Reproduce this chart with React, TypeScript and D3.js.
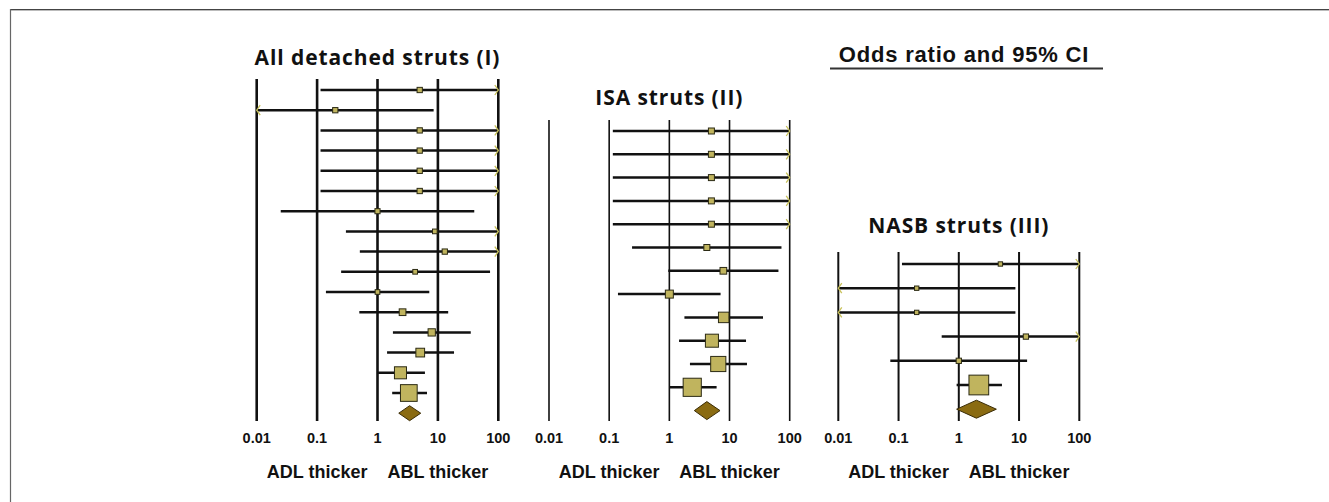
import React, { useEffect, useRef } from 'react';
import * as d3 from 'd3';

// odds ratios with 95% CI (values past 0.01 / 100 are clipped with an arrow)
const allLower = [0.114, 0.004, 0.114, 0.114, 0.114, 0.114, 0.025, 0.3, 0.51, 0.25, 0.14, 0.5, 1.8, 1.44, 1.0, 1.75];
const allOR = [5.0, 0.2, 5.0, 5.0, 5.0, 5.0, 1.0, 8.9, 13, 4.2, 1.0, 2.6, 7.9, 5.1, 2.4, 3.3];
const allUpper = [250, 8.5, 250, 250, 250, 250, 40, 250, 250, 73, 7.2, 14.8, 35, 18.5, 6.1, 6.6];
const allWeight = [2.8, 2.8, 2.8, 2.8, 2.8, 2.8, 2.6, 2.2, 2.8, 2.2, 2.2, 4.5, 5.3, 7.6, 14.5, 28];
const allPooled = [2.25, 3.4, 5.2];

const isaLower = [0.115, 0.115, 0.115, 0.115, 0.115, 0.24, 0.96, 0.14, 1.78, 1.45, 2.2, 1.0];
const isaOR = [5.0, 5.0, 5.0, 5.0, 5.0, 4.2, 7.9, 1.0, 8.0, 5.1, 6.5, 2.4];
const isaUpper = [250, 250, 250, 250, 250, 73, 65, 7.1, 36, 18.8, 19.5, 6.1];
const isaWeight = [3.6, 3.6, 3.6, 3.6, 3.6, 3.6, 4.5, 6.4, 11, 17, 23, 33];
const isaPooled = [2.6, 4.2, 6.95];

const nasbLower = [0.114, 0.004, 0.004, 0.52, 0.073, 0.92];
const nasbOR = [4.9, 0.2, 0.2, 13, 1.0, 2.15];
const nasbUpper = [250, 8.7, 8.7, 250, 13.6, 5.2];
const nasbWeight = [1.9, 1.9, 1.9, 2.8, 2.8, 39];
const nasbPooled = [0.92, 1.96, 4.2];

const ticks = [0.01, 0.1, 1, 10, 100];
const tickLabels = ['0.01', '0.1', '1', '10', '100'];

const panels = [
    { title: 'All detached struts (I)', lower: allLower, or: allOR, upper: allUpper, weight: allWeight, pooled: allPooled,
      x0: 256.7, x1: 498.3, yFirst: 90, yLast: 413.2, top: 79, titleY: 65, gridWidth: 2.6 },
    { title: 'ISA struts (II)', lower: isaLower, or: isaOR, upper: isaUpper, weight: isaWeight, pooled: isaPooled,
      x0: 549, x1: 789.7, yFirst: 131, yLast: 410.6, top: 120, titleY: 105, gridWidth: 1.6 },
    { title: 'NASB struts (III)', lower: nasbLower, or: nasbOR, upper: nasbUpper, weight: nasbWeight, pooled: nasbPooled,
      x0: 838.3, x1: 1079.3, yFirst: 264, yLast: 409.2, top: 252, titleY: 233, gridWidth: 2 },
];

const boxFill = '#c0b45e';
const diamondFill = '#8a6b12';
const arrowColor = '#c9c25a';

export default function App() {
    const ref = useRef<SVGSVGElement>(null);

    useEffect(() => {
        const svg = d3.select(ref.current);
        svg.selectAll('*').remove();

        // frame
        svg.append('line').attr('x1', 10).attr('x2', 1329).attr('y1', 9.5).attr('y2', 9.5).attr('stroke', '#444').attr('stroke-width', 1);
        svg.append('line').attr('x1', 10).attr('x2', 1329).attr('y1', 10.5).attr('y2', 10.5).attr('stroke', '#bbb').attr('stroke-width', 1);
        svg.append('line').attr('x1', 10.5).attr('x2', 10.5).attr('y1', 9).attr('y2', 502).attr('stroke', '#666').attr('stroke-width', 1.2);

        // header
        svg.append('text').text('Odds ratio and 95% CI')
            .attr('x', 964).attr('y', 62).attr('text-anchor', 'middle')
            .attr('font-family', 'Liberation Sans, Arial, sans-serif').attr('font-weight', 'bold')
            .attr('font-size', 22).attr('letter-spacing', 0.8).attr('fill', '#111');
        svg.append('line').attr('x1', 830).attr('x2', 1103).attr('y1', 68.5).attr('y2', 68.5)
            .attr('stroke', '#333').attr('stroke-width', 2);

        const sizeScale = d3.scaleSqrt().domain([0, 100]).range([0, 31.6]);

        panels.forEach((p) => {
            const g = svg.append('g');
            const x = d3.scaleLog().domain([0.01, 100]).range([p.x0, p.x1]);
            const n = p.or.length;
            const y = d3.scaleLinear().domain([0, n]).range([p.yFirst, p.yLast]);

            g.append('text').text(p.title)
                .attr('x', (p.x0 + p.x1) / 2).attr('y', p.titleY).attr('text-anchor', 'middle')
                .attr('font-family', 'Open Sans, sans-serif').attr('font-weight', 'bold')
                .attr('font-size', 21).attr('letter-spacing', 0.9).attr('fill', '#111');

            // vertical reference lines
            g.selectAll('line.grid').data(ticks).enter().append('line')
                .attr('class', 'grid')
                .attr('x1', (d) => x(d)).attr('x2', (d) => x(d))
                .attr('y1', p.top).attr('y2', 421)
                .attr('stroke', '#111').attr('stroke-width', p.gridWidth);

            g.selectAll('text.tick').data(ticks).enter().append('text')
                .attr('class', 'tick')
                .attr('x', (d) => x(d)).attr('y', 442.5).attr('text-anchor', 'middle')
                .attr('font-family', 'Liberation Sans, Arial, sans-serif').attr('font-weight', 'bold')
                .attr('font-size', 14.5).attr('fill', '#111')
                .text((d, i) => tickLabels[i]);

            g.append('text').text('ADL thicker')
                .attr('x', x(0.1)).attr('y', 477.5).attr('text-anchor', 'middle')
                .attr('font-family', 'Liberation Sans, Arial, sans-serif').attr('font-weight', 'bold')
                .attr('font-size', 18).attr('fill', '#111');
            g.append('text').text('ABL thicker')
                .attr('x', x(10)).attr('y', 477.5).attr('text-anchor', 'middle')
                .attr('font-family', 'Liberation Sans, Arial, sans-serif').attr('font-weight', 'bold')
                .attr('font-size', 18).attr('fill', '#111');

            const rows = d3.range(n).map((i) => ({
                i, lo: p.lower[i], est: p.or[i], hi: p.upper[i], w: p.weight[i],
            }));
            const clip = (v: number) => Math.max(0.01, Math.min(100, v));

            // CI lines
            g.selectAll('line.ci').data(rows).enter().append('line')
                .attr('class', 'ci')
                .attr('x1', (d) => x(clip(d.lo))).attr('x2', (d) => x(clip(d.hi)))
                .attr('y1', (d) => y(d.i)).attr('y2', (d) => y(d.i))
                .attr('stroke', '#111').attr('stroke-width', 2.5);

            // arrows for clipped intervals
            const arrow = d3.line();
            rows.forEach((d) => {
                if (d.hi > 100) {
                    const ax = x(100), ay = y(d.i);
                    g.append('path').attr('d', arrow([[ax - 3.5, ay - 5], [ax, ay], [ax - 3.5, ay + 5]]))
                        .attr('fill', 'none').attr('stroke', arrowColor).attr('stroke-width', 1.3);
                }
                if (d.lo < 0.01) {
                    const ax = x(0.01), ay = y(d.i);
                    g.append('path').attr('d', arrow([[ax + 3.5, ay - 5], [ax, ay], [ax + 3.5, ay + 5]]))
                        .attr('fill', 'none').attr('stroke', arrowColor).attr('stroke-width', 1.3);
                }
            });

            // point estimates
            g.selectAll('rect.box').data(rows).enter().append('rect')
                .attr('class', 'box')
                .attr('x', (d) => x(d.est) - sizeScale(d.w) / 2)
                .attr('y', (d) => y(d.i) - sizeScale(d.w) / 2)
                .attr('width', (d) => sizeScale(d.w))
                .attr('height', (d) => sizeScale(d.w))
                .attr('fill', boxFill).attr('stroke', '#2b2a14').attr('stroke-width', 1);

            // pooled diamond
            const [plo, pest, phi] = p.pooled;
            const dy = y(n);
            const hh = p === panels[0] ? 7.5 : 9;
            g.append('path')
                .attr('d', arrow([[x(plo), dy], [x(pest), dy - hh], [x(phi), dy], [x(pest), dy + hh]]) + 'Z')
                .attr('fill', diamondFill).attr('stroke', '#3a2c06').attr('stroke-width', 1);
        });
    }, []);

    return (
        <svg ref={ref} width={1329} height={502}
             style={{ position: 'absolute', left: 0, top: 0, background: '#fff' }} />
    );
}
